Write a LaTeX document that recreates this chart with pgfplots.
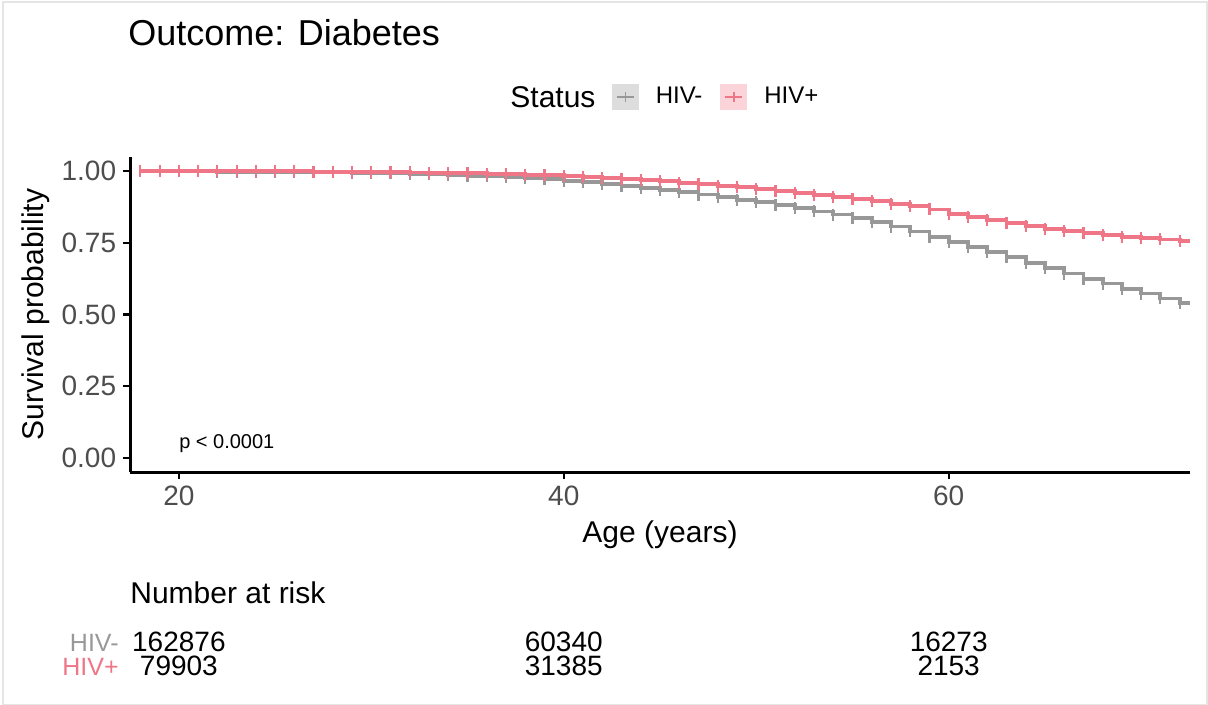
\documentclass[border=0pt]{standalone}
\usepackage{pgfplots}
\usepackage{pgfplotstable}
\pgfplotsset{compat=1.18}
\usepackage{fontspec}
\setmainfont{Liberation Sans}

\definecolor{hivneg}{RGB}{152,152,152}
\definecolor{hivpos}{RGB}{238,118,134}
\definecolor{hivnegkey}{RGB}{221,221,221}
\definecolor{hivposkey}{RGB}{250,212,217}
\definecolor{ticktext}{RGB}{77,77,77}

% Kaplan-Meier estimates of diabetes-free survival, by age (years)
\pgfplotstableread{
age   neg    pos
18    1.000  1.000
19    1.000  1.000
20    1.000  1.000
21    1.000  1.000
22    0.999  1.000
23    0.999  1.000
24    0.999  1.000
25    0.998  1.000
26    0.998  1.000
27    0.997  0.999
28    0.996  0.999
29    0.995  0.998
30    0.994  0.998
31    0.993  0.997
32    0.991  0.996
33    0.989  0.995
34    0.987  0.994
35    0.985  0.993
36    0.982  0.991
37    0.979  0.990
38    0.976  0.988
39    0.972  0.986
40    0.967  0.983
41    0.962  0.980
42    0.956  0.977
43    0.950  0.973
44    0.943  0.969
45    0.936  0.965
46    0.928  0.960
47    0.919  0.955
48    0.910  0.950
49    0.901  0.945
50    0.892  0.939
51    0.882  0.932
52    0.871  0.925
53    0.860  0.918
54    0.849  0.911
55    0.837  0.904
56    0.823  0.896
57    0.807  0.887
58    0.790  0.878
59    0.772  0.867
60    0.754  0.852
61    0.737  0.840
62    0.719  0.830
63    0.700  0.819
64    0.681  0.808
65    0.662  0.799
66    0.643  0.791
67    0.625  0.784
68    0.608  0.778
69    0.590  0.772
70    0.573  0.767
71    0.556  0.762
72    0.539  0.758
72.54 0.539  0.758
}\survtab

\begin{document}
\begin{tikzpicture}
\useasboundingbox (0,0) rectangle (604pt,-352.5pt);
\draw[black!10, line width=0.6pt] (1.5pt,-1pt) rectangle (603.5pt,-352.5pt);

% title
\node[anchor=base west, inner sep=0pt, font=\fontsize{18}{20}\selectfont] at (64pt,-23pt) {Outcome: Diabetes};
% legend title
\node[anchor=west, inner sep=0pt, font=\fontsize{15}{17}\selectfont] at (255pt,-48.5pt) {Status};

\begin{axis}[
  at={(65pt,-236pt)}, anchor=south west,
  scale only axis, width=530pt, height=157.5pt,
  xmin=17.46, xmax=72.54, ymin=-0.05, ymax=1.05,
  axis lines=left,
  axis line style={-, line width=1.5pt, black},
  tick align=outside,
  major tick length=3.4pt,
  every tick/.style={black, line width=1.1pt},
  xtick={20,40,60},
  ytick={0,0.25,0.5,0.75,1},
  yticklabels={0.00,0.25,0.50,0.75,1.00},
  /pgf/number format/assume math mode=true,
  ticklabel style={font=\fontsize{14}{16}\selectfont, text=ticktext},
  xlabel={Age (years)},
  ylabel={Survival probability},
  every axis x label/.style={at={(axis description cs:0.5,-0.2)}, anchor=center, font=\fontsize{15}{17}\selectfont},
  every axis y label/.style={at={(axis description cs:-0.0887,0.5)}, rotate=90, anchor=center, font=\fontsize{15}{17}\selectfont},
  legend columns=2,
  legend style={at={(axis description cs:0.4547,1.1905)}, anchor=west,
    draw=none, fill=none, inner sep=0pt, outer sep=0pt,
    font=\fontsize{12}{14}\selectfont,
    nodes={inner sep=0pt},
    /tikz/every odd column/.append style={column sep=8.5pt},
    /tikz/every even column/.append style={column sep=9pt}},
]
% step curves
\addplot[const plot, hivneg, line width=1.9pt,
  legend image code/.code={
    \fill[hivnegkey] (0pt,-5.75pt) rectangle (11.5pt,5.75pt);
    \draw[hivneg, line width=1pt] (1.5pt,0pt) -- (10pt,0pt);
    \draw[hivneg, line width=0.8pt] (5.75pt,-2.6pt) -- (5.75pt,2.6pt);
  }] table[x=age, y=neg] {\survtab};
\addlegendentry{HIV-}
\addplot[const plot, hivpos, line width=1.9pt,
  legend image code/.code={
    \fill[hivposkey] (0pt,-5.75pt) rectangle (11.5pt,5.75pt);
    \draw[hivpos, line width=1pt] (1.5pt,0pt) -- (10pt,0pt);
    \draw[hivpos, line width=0.8pt] (5.75pt,-2.6pt) -- (5.75pt,2.6pt);
  }] table[x=age, y=pos] {\survtab};
\addlegendentry{HIV+}
% censoring marks
\addplot[only marks, forget plot, hivneg, mark=|, mark size=3pt,
  mark options={line width=1.1pt}, skip coords between index={55}{56}]
  table[x=age, y=neg] {\survtab};
\addplot[only marks, forget plot, hivpos, mark=|, mark size=3pt,
  mark options={line width=1.1pt}, skip coords between index={55}{56}]
  table[x=age, y=pos] {\survtab};

\node[anchor=west, inner sep=0pt, font=\fontsize{10}{12}\selectfont] at (axis cs:20,0.05) {p < 0.0001};

\coordinate (t20) at (axis cs:20,0);
\coordinate (t40) at (axis cs:40,0);
\coordinate (t60) at (axis cs:60,0);
\end{axis}

% number-at-risk table
\node[anchor=base west, inner sep=0pt, font=\fontsize{15}{17}\selectfont] at (65pt,-301.5pt) {Number at risk};
\begin{scope}[font=\fontsize{14}{15}\selectfont]
\node[anchor=base, inner sep=0pt] at (t20 |- 0pt,-325.5pt) {162876};
\node[anchor=base, inner sep=0pt] at (t40 |- 0pt,-325.5pt) {60340};
\node[anchor=base, inner sep=0pt] at (t60 |- 0pt,-325.5pt) {16273};
\node[anchor=base, inner sep=0pt] at (t20 |- 0pt,-337.8pt) {79903};
\node[anchor=base, inner sep=0pt] at (t40 |- 0pt,-337.8pt) {31385};
\node[anchor=base, inner sep=0pt] at (t60 |- 0pt,-337.8pt) {2153};
\end{scope}
\node[anchor=base east, inner sep=0pt, text=hivneg, font=\fontsize{12.5}{14}\selectfont] at (59.5pt,-325.5pt) {HIV-};
\node[anchor=base east, inner sep=0pt, text=hivpos, font=\fontsize{12.5}{14}\selectfont] at (59.5pt,-337.8pt) {HIV+};
\end{tikzpicture}
\end{document}
